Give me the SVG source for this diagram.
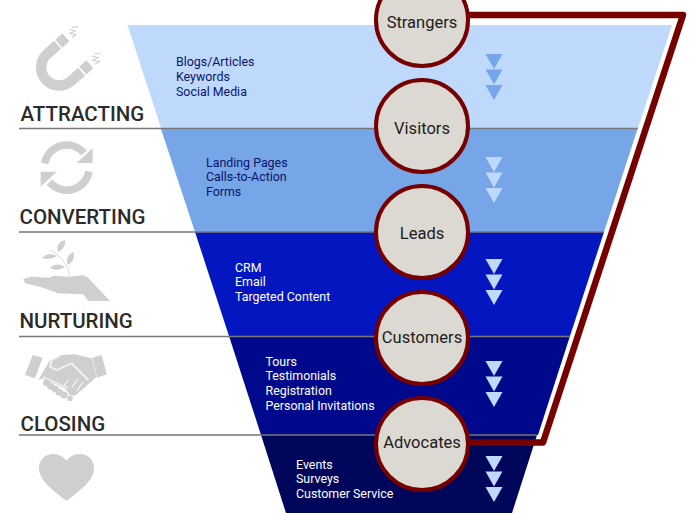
<svg xmlns="http://www.w3.org/2000/svg" width="700" height="513" viewBox="0 0 700 513">
<style>
.t{font-family:Roboto,"Liberation Sans",sans-serif}
.title{font-size:20.500px;font-weight:500;fill:#2b2b2b}
.item{font-size:12.400px}
.dark{fill:#0a1468}
.pale{fill:#fff}
.name{font-size:16.500px;fill:#1c1c1c;text-anchor:middle}
.node{fill:#dcd9d2;stroke:#760000;stroke-width:4}
.rule{stroke:#777;stroke-width:1.600}
.icon{fill:#cfcfcf}
.ln{fill:none;stroke:#cfcfcf}
.gap{fill:none;stroke:#f4f4f4}
</style>
<defs>
<g id="tri3"><path d="M-8.500 0H8.500L0 15z"/><path d="M-8.500 15.500H8.500L0 30.500z"/><path d="M-8.500 31H8.500L0 46z"/></g>
</defs>
<g id="funnel">
<path d="M127.500 25H672L638 128H161z" fill="#bfd9fd"/>
<path d="M161 129H637.500L604 232H195z" fill="#76a6e8"/>
<path d="M195 232H604L570 336H229z" fill="#0416bf"/>
<path d="M229 336H570L538 435H261z" fill="#00098c"/>
<path d="M261 435H537L512 513H286z" fill="#00065a"/>
</g>
<g id="rules">
<path class="rule" d="M19 128.500H638M19 232H604M19 336.500H570M19 435H537"/>
</g>
<g id="connectors">
<path d="M465 15H683L543 442.500H465" fill="none" stroke="#760000" stroke-width="6.500" stroke-linejoin="round"/>
</g>
<g id="arrows">
<use href="#tri3" x="494" y="54" fill="#76a6e8"/>
<use href="#tri3" x="494" y="157" fill="#bfd9fd"/>
<use href="#tri3" x="494" y="259" fill="#bfd9fd"/>
<use href="#tri3" x="494" y="361" fill="#bfd9fd"/>
<use href="#tri3" x="494" y="456" fill="#bfd9fd"/>
</g>
<g id="icon-magnet">
<path class="ln" stroke-width="10.500" d="M57.600 44.800L47.200 54A18 18 0 0 0 71.200 80.900L81.600 71.700"/>
<path class="ln" stroke-width="10.500" d="M58.800 43.700L65.900 37.400M82.800 70.600L89.900 64.300"/>
<path class="ln" stroke-width="1.200" d="M69.300 29.300L75 31L70 33.300L76 35L71.700 37.700M72 27.500L78 26.700M91.700 56L98.300 57.700L92.700 60L99.300 61.700L95 64.300M94 54L101 53"/>
</g>
<g id="icon-cycle">
<path class="ln" stroke-width="7.500" d="M44.600 163.500A22.500 22.500 0 0 1 84 153"/>
<path class="icon" d="M92.700 148V163H76.700z"/>
<path class="ln" stroke-width="7.500" d="M89 171.500A22.500 22.500 0 0 1 49.500 182"/>
<path class="icon" d="M40.700 186.700V171.700H56.700z"/>
</g>
<g id="icon-hand">
<path class="icon" d="M23.300 279L31.700 276.700L50 277.700L53.300 275.700L70 276.700L83.300 275Q88 277 91.700 281.700L110 301H88.300L83.300 294.300L58.300 293.300L40 286.700L25 283.300z"/>
<path class="ln" stroke-width="0.800" d="M70 276.700C69 268 63 257 50 250"/>
<path class="icon" d="M58 252C56 245 60 241 65 240C66 245 63 250 58 252zM68 265C65 258 69 254 73.500 252C75 258 73 262 68 265zM42 258C47 253 52 254 57 256C52 259 47 260 42 258zM50 268C55 263 60 264 65 267C60 270 55 271 50 268z"/>
</g>
<g id="icon-handshake">
<path class="icon" d="M32.700 355L42.700 357.700L35 378.300L25 375zM92.300 357.700L101.700 355L106.700 374.300L97.300 377.700z"/>
<path class="icon" d="M38.300 380L50 360L61.700 355L75 354.300L91.700 358.300L96.700 376.700L88.300 384.300L75 395.700L70 395L65 388.300L43.300 378.300z"/>
<g class="icon"><circle cx="46.700" cy="382.700" r="3.500"/><circle cx="50.700" cy="386.300" r="3.500"/><circle cx="55.300" cy="389" r="3.500"/><circle cx="59.300" cy="392.300" r="3.500"/><circle cx="64" cy="395" r="3.500"/><circle cx="70" cy="398.300" r="2.800"/></g>
<path class="gap" stroke-width="1.800" d="M60 355.700L51.700 360L50 366.700L56.700 370L71.700 363.300L88.300 380"/>
<path class="gap" stroke-width="1.200" d="M43.300 376.700L68.300 388.300M78.300 378.300L71.700 387.700M83.300 381.700L76.700 391M68.300 380L63.300 386.700"/>
</g>
<g id="icon-heart" class="icon">
<path d="M66.500 501C54 491 39 481 39 468C39 458 47 454 53 454C59 454 64 457 66.500 461C69 457 74 454 80 454C87 454 94 459 94 468C94 481 79 491 66.500 501z"/>
</g>
<g id="titles">
<text class="t title" x="20.500" y="121">ATTRACTING</text>
<text class="t title" x="19.500" y="224">CONVERTING</text>
<text class="t title" x="19.500" y="328">NURTURING</text>
<text class="t title" x="20.500" y="431">CLOSING</text>
</g>
<g id="lists">
<g class="t item dark">
<text x="176" y="66">Blogs/Articles</text>
<text x="176" y="81">Keywords</text>
<text x="176" y="95.500">Social Media</text>
<text x="206" y="167">Landing Pages</text>
<text x="206" y="181">Calls-to-Action</text>
<text x="206" y="196">Forms</text>
</g>
<g class="t item pale">
<text x="235" y="272">CRM</text>
<text x="235" y="286">Email</text>
<text x="235" y="301">Targeted Content</text>
<text x="265.500" y="366">Tours</text>
<text x="265.500" y="380">Testimonials</text>
<text x="265.500" y="395">Registration</text>
<text x="265.500" y="410">Personal Invitations</text>
<text x="296" y="469">Events</text>
<text x="296" y="483">Surveys</text>
<text x="296" y="498">Customer Service</text>
</g>
</g>
<g id="node-strangers"><circle class="node" cx="422" cy="20" r="46"/><text class="t name" x="422" y="28">Strangers</text></g>
<g id="node-visitors"><circle class="node" cx="422" cy="126" r="46"/><text class="t name" x="422" y="134">Visitors</text></g>
<g id="node-leads"><circle class="node" cx="422" cy="232" r="46"/><text class="t name" x="422" y="239">Leads</text></g>
<g id="node-customers"><circle class="node" cx="422" cy="338" r="46"/><text class="t name" x="422" y="343">Customers</text></g>
<g id="node-advocates"><circle class="node" cx="422" cy="444" r="46"/><text class="t name" x="422" y="448">Advocates</text></g>
</svg>
